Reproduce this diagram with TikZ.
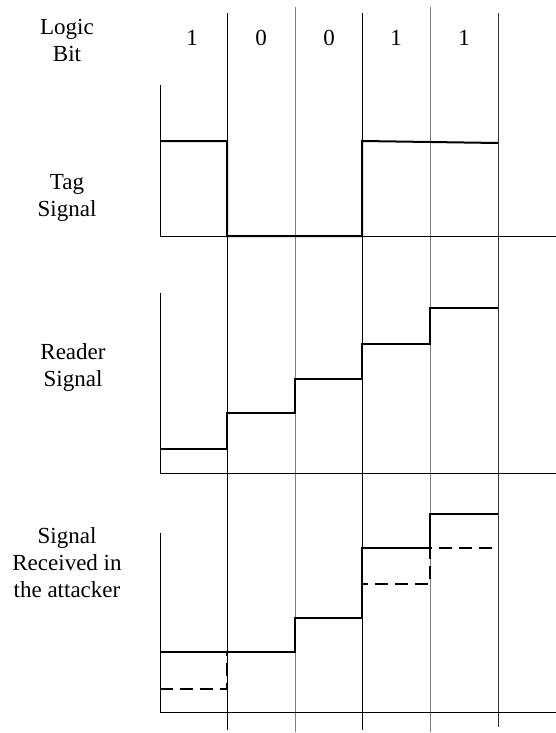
\documentclass[tikz,border=0pt]{standalone}
\usepackage{fontspec}
\setmainfont{Liberation Serif}
\begin{document}
\begin{tikzpicture}[x=1pt,y=-1pt,
        lbl/.style={align=center,font=\fontsize{23}{27}\selectfont},
        sig/.style={line width=2pt},
        axis/.style={line width=1pt}]
        \useasboundingbox (0,0) rectangle (556,733);

        % bit boundaries
        \draw[line width=0.8pt] (227,13) -- (227,730);
        \draw[line width=0.8pt, gray] (295,7) -- (295,732);
        \draw[line width=0.8pt] (362,13) -- (362,730);
        \draw[line width=0.8pt, gray] (430,7) -- (430,732);
        \draw[line width=0.8pt, black!80] (498,13) -- (498,727);

        % labels
        \node[lbl] (logic) at (67,40) {Logic\\Bit};
        \node[lbl] (tag) at (67,198) {Tag\\Signal};
        \node[lbl] (reader) at (73,367) {Reader\\Signal};
        \node[lbl] (attacker) at (67,563) {Signal\\Received in\\the attacker};

        \node[lbl] (b1) at (192,38) {1};
        \node[lbl] (b2) at (261,38) {0};
        \node[lbl] (b3) at (329,38) {0};
        \node[lbl] (b4) at (396,38) {1};
        \node[lbl] (b5) at (464,38) {1};

        % axes
        \draw[axis] (160,85) -- (160,236) -- (556,236);
        \draw[axis] (160,293) -- (160,473) -- (556,473);
        \draw[axis] (160,533) -- (160,712) -- (556,712);

        % tag signal
        \draw[sig] (160,141) -- (227,141) -- (227,236) -- (362,236) -- (362,141) -- (498,143);

        % reader signal
        \draw[sig] (160,449) -- (227,449) -- (227,413) -- (295,413) -- (295,379)
            -- (362,379) -- (362,344) -- (430,344) -- (430,308) -- (498,308);

        % attacker
        \draw[sig] (160,652) -- (295,652) -- (295,618) -- (362,618) -- (362,548)
            -- (430,548) -- (430,514) -- (498,514);
        \draw[sig, dash pattern=on 13pt off 7pt] (160,689) -- (227,689) -- (227,652)
            -- (295,652) -- (295,618) -- (362,618) -- (362,584) -- (430,584)
            -- (430,548) -- (498,548);
    \end{tikzpicture}
\end{document}
